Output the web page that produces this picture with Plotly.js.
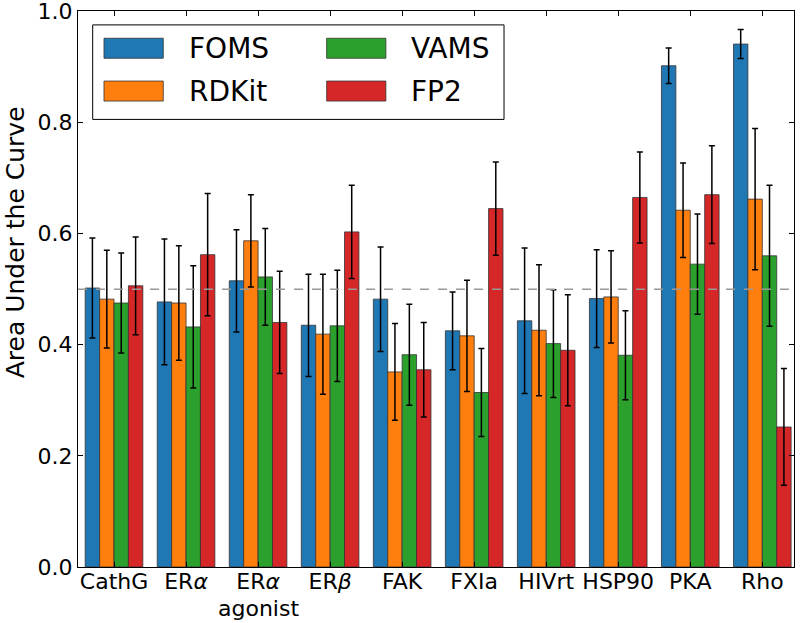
<!DOCTYPE html>
<html>
<head>
<meta charset="utf-8">
<script src="https://cdn.plot.ly/plotly-3.0.1.min.js"></script>
<style>
  html, body { margin: 0; padding: 0; background: #fff; }
  #plot { width: 800px; height: 623px; }
</style>
</head>
<body>
<div id="plot"></div>
<script>
// targets (x axis) and the labels shown under them
const targets = ['CathG', 'ERa', 'ERa agonist', 'ERb', 'FAK', 'FXIa', 'HIVrt', 'HSP90', 'PKA', 'Rho'];
const targetLabels = ['CathG', 'ER<i>α</i>', 'ER<i>α</i>', 'ER<i>β</i>', 'FAK', 'FXIa', 'HIVrt', 'HSP90', 'PKA', 'Rho'];

// mean AUC and error for each fingerprint
const foms     = [0.502, 0.477, 0.515, 0.435, 0.482, 0.425, 0.443, 0.483, 0.902, 0.941];
const fomsErr  = [0.090, 0.113, 0.092, 0.092, 0.094, 0.070, 0.131, 0.088, 0.032, 0.026];
const rdkit    = [0.482, 0.475, 0.587, 0.419, 0.351, 0.416, 0.426, 0.486, 0.642, 0.662];
const rdkitErr = [0.088, 0.103, 0.083, 0.108, 0.087, 0.100, 0.118, 0.083, 0.085, 0.127];
const vams     = [0.475, 0.432, 0.522, 0.434, 0.382, 0.314, 0.402, 0.381, 0.545, 0.560];
const vamsErr  = [0.090, 0.110, 0.087, 0.100, 0.091, 0.079, 0.097, 0.080, 0.090, 0.127];
const fp2      = [0.506, 0.562, 0.440, 0.603, 0.355, 0.645, 0.390, 0.665, 0.670, 0.252];
const fp2Err   = [0.088, 0.110, 0.092, 0.084, 0.085, 0.084, 0.100, 0.082, 0.088, 0.105];

const seriesNames = ['FOMS', 'RDKit', 'VAMS', 'FP2'];
const seriesValues = [foms, rdkit, vams, fp2];
const seriesErrors = [fomsErr, rdkitErr, vamsErr, fp2Err];
const colors = ['#1f77b4', '#ff7f0e', '#2ca02c', '#d62728'];
const yTicks = [0, 0.2, 0.4, 0.6, 0.8, 1.0];

const font = 'DejaVu Sans, sans-serif';

let traces = [];
for (let i = 0; i < seriesNames.length; i++) {
    traces.push({
        type: 'bar',
        name: seriesNames[i],
        x: targets,
        y: seriesValues[i],
        marker: { color: colors[i], line: { color: '#333', width: 0.8 } },
        error_y: { type: 'data', array: seriesErrors[i], color: '#000', thickness: 1.5, width: 3 },
        showlegend: false
    });
}

// legend drawn by hand: 2 columns (FOMS/RDKit, VAMS/FP2)
const legCol = [0, 0, 1, 1];
const legRow = [0, 1, 0, 1];
const swatchX = [[0.0363, 0.1191], [0.3473, 0.4300]];
const textX = [0.1518, 0.4627];
const rowY = [0.933, 0.856];

let shapes = [
    // chance line
    { type: 'line', xref: 'paper', x0: 0, x1: 1, yref: 'y', y0: 0.5, y1: 0.5,
      line: { color: '#999', width: 1.5, dash: 'dash' }, layer: 'above' },
    // legend frame
    { type: 'rect', xref: 'paper', yref: 'paper', x0: 0.0205, x1: 0.595, y0: 0.805, y1: 0.975,
      line: { color: '#000', width: 1 }, fillcolor: '#fff', layer: 'above' }
];
let annotations = [];
for (let i = 0; i < seriesNames.length; i++) {
    let c = legCol[i], r = legRow[i];
    shapes.push({ type: 'rect', xref: 'paper', yref: 'paper',
        x0: swatchX[c][0], x1: swatchX[c][1], y0: rowY[r] - 0.018, y1: rowY[r] + 0.018,
        fillcolor: colors[i], line: { color: '#333', width: 0.8 }, layer: 'above' });
    annotations.push({ xref: 'paper', yref: 'paper', x: textX[c], y: rowY[r],
        xanchor: 'left', yanchor: 'middle', showarrow: false, text: seriesNames[i],
        font: { family: font, size: 28, color: '#000' } });
}
// second line of the "ERα agonist" label, tighter than plotly's <br>
annotations.push({ xref: 'x', yref: 'paper', x: 'ERa agonist', y: -0.1, yanchor: 'bottom',
    showarrow: false, text: 'agonist', font: { family: font, size: 22, color: '#000' } });
// y title, sits above centre like the original
annotations.push({ xref: 'paper', yref: 'paper', x: -0.088, y: 0.584, xanchor: 'center', yanchor: 'middle',
    textangle: -90, showarrow: false, text: 'Area Under the Curve',
    font: { family: font, size: 25, color: '#000' } });

let layout = {
    width: 800,
    height: 623,
    margin: { l: 78, r: 6, t: 11, b: 56 },
    paper_bgcolor: '#fff',
    plot_bgcolor: '#fff',
    barmode: 'group',
    bargap: 0.2,
    bargroupgap: 0,
    font: { family: font, color: '#000' },
    xaxis: {
        type: 'category',
        range: [-0.5, 9.44],
        tickvals: targets,
        ticktext: targetLabels,
        tickfont: { family: font, size: 22, color: '#000' },
        ticklabelstandoff: -5,
        ticks: 'inside', ticklen: 5, tickcolor: '#000',
        showline: true, linecolor: '#000', linewidth: 1, mirror: 'ticks',
        showgrid: false, zeroline: false
    },
    yaxis: {
        range: [0, 1.0005],
        tickvals: yTicks,
        tickformat: '.1f',
        ticklabeloverflow: 'allow',
        tickfont: { family: font, size: 22, color: '#000' },
        ticks: 'inside', ticklen: 5, tickcolor: '#000',
        showline: true, linecolor: '#000', linewidth: 1, mirror: 'ticks',
        showgrid: false, zeroline: false
    },
    shapes: shapes,
    annotations: annotations
};

Plotly.newPlot('plot', traces, layout, { displayModeBar: false, staticPlot: true });
</script>
</body>
</html>
